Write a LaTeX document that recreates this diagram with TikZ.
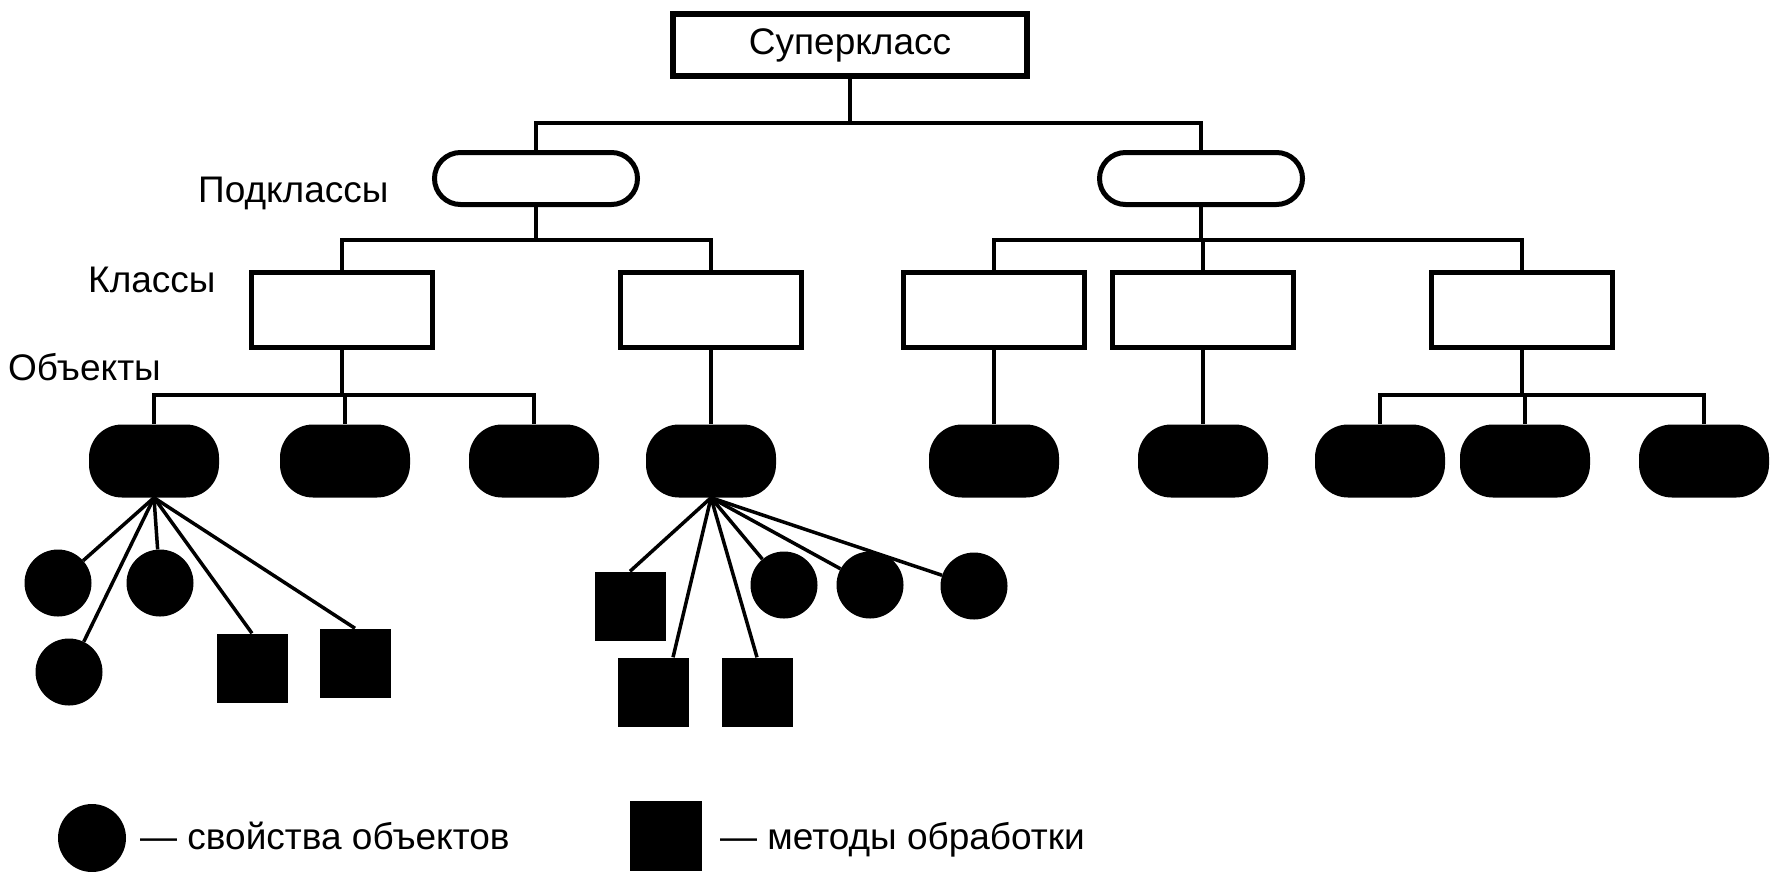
\documentclass[tikz,border=0pt]{standalone}
\usepackage{fontspec}
\setmainfont{Liberation Sans}
\begin{document}
\begin{tikzpicture}[x=1pt,y=-1pt]
  \tikzset{ txt/.style={font=\fontsize{37}{44}\selectfont,inner sep=0pt},
    topbox/.style={draw,line width=6pt,minimum width=354pt,minimum height=62pt,inner sep=0pt,txt},
    sub/.style={draw,line width=5pt,rounded corners=26pt,minimum width=203pt,minimum height=52pt},
    cls/.style={draw,line width=5pt,minimum width=181pt,minimum height=75pt},
    obj/.style={fill,rounded corners=33pt,minimum width=130pt,minimum height=73pt},
    prop/.style={circle,fill,minimum size=67pt,inner sep=0pt},
    meth/.style={fill,minimum width=71pt,minimum height=69pt,inner sep=0pt},
  }
  \useasboundingbox (0,0) rectangle (1779,871);

  \node[topbox] (super) at (850,45) {Суперкласс};
  \node[sub] (s1) at (536,178.5) {};
  \node[sub] (s2) at (1201,178.5) {};

  \node[cls] (c1) at (342,310) {};
  \node[cls] (c2) at (711,310) {};
  \node[cls] (c3) at (994,310) {};
  \node[cls] (c4) at (1203,310) {};
  \node[cls] (c5) at (1522,310) {};

  \node[obj] (o1) at (154,461) {};
  \node[obj] (o2) at (345,461) {};
  \node[obj] (o3) at (534,461) {};
  \node[obj] (o4) at (711,461) {};
  \node[obj] (o5) at (994,461) {};
  \node[obj] (o6) at (1203,461) {};
  \node[obj] (o7) at (1380,461) {};
  \node[obj] (o8) at (1525,461) {};
  \node[obj] (o9) at (1704,461) {};

  \node[prop] (p1) at (58,583) {};
  \node[prop] (p2) at (160,583) {};
  \node[prop] (p3) at (69,672) {};
  \node[meth] (m1) at (252,668) {};
  \node[meth] (m2) at (355,663) {};

  \node[meth] (m3) at (630,606) {};
  \node[prop] (p4) at (784,585) {};
  \node[prop] (p5) at (870,585) {};
  \node[prop] (p6) at (974,586) {};
  \node[meth] (m4) at (653,692) {};
  \node[meth] (m5) at (757,692) {};

  % level labels
  \node[txt,anchor=base west] (lsub) at (198,202) {Подклассы};
  \node[txt,anchor=base west] (lcls) at (88,292) {Классы};
  \node[txt,anchor=base west] (lobj) at (8,380) {Объекты};

  % tree
  \begin{scope}[line width=4pt]
    \foreach \s in {s1,s2} \draw (super.south) -- ++(0,44) -| (\s.north);
    \foreach \c in {c1,c2} \draw (s1.south) -- ++(0,33) -| (\c.north);
    \foreach \c in {c3,c4,c5} \draw (s2.south) -- ++(0,33) -| (\c.north);
    \foreach \o in {o1,o2,o3} \draw (c1.south) -- ++(0,45) -| (\o.north);
    \foreach \o in {o7,o8,o9} \draw (c5.south) -- ++(0,45) -| (\o.north);
    \draw (c2) -- (o4);
    \draw (c3) -- (o5);
    \draw (c4) -- (o6);
  \end{scope}

  % properties and methods
  \begin{scope}[line width=3.5pt]
    \foreach \t in {p1,p2,p3,m1.north,m2.north} \draw (o1.south) -- (\t);
    \foreach \t in {m3.north,p4,p5,p6,m4.60,m5.north} \draw (o4.south) -- (\t);
  \end{scope}

  % legend
  \node[prop,minimum size=68pt] (lp) at (92,838) {};
  \node[txt,anchor=base west] (lptxt) at (140,849) {— свойства объектов};
  \node[meth,minimum width=72pt,minimum height=70pt] (lm) at (666,836) {};
  \node[txt,anchor=base west] (lmtxt) at (720,849) {— методы обработки};
\end{tikzpicture}
\end{document}
